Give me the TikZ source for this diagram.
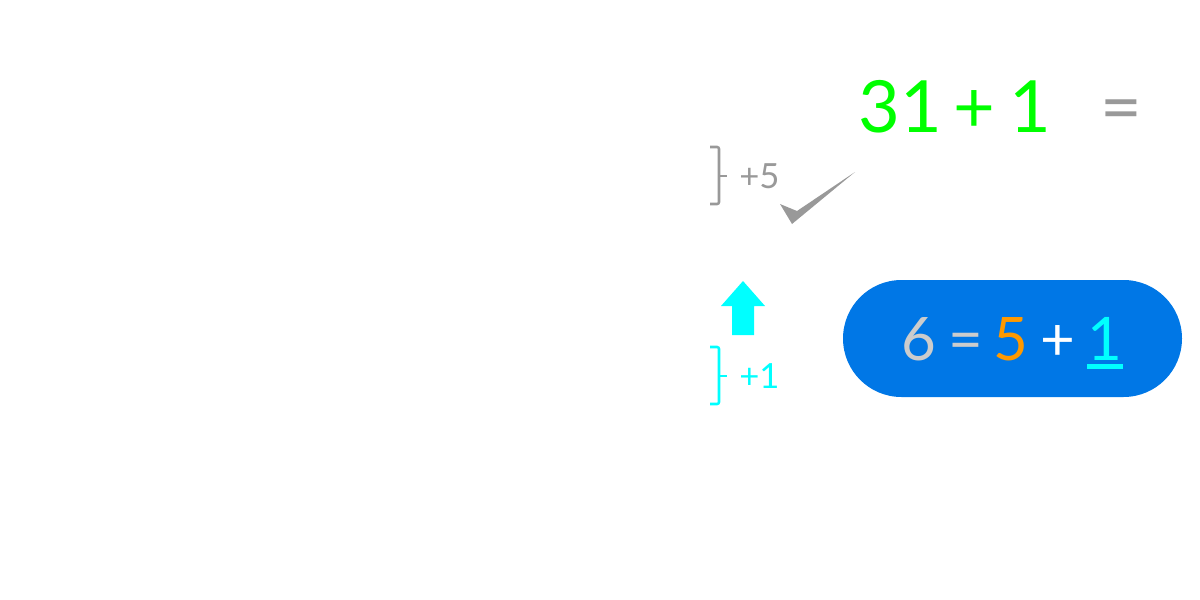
\documentclass[tikz,border=0pt]{standalone}
\usepackage{fontspec}
\setmainfont{Lato}
\definecolor{lgreen}{HTML}{00FF00}
\definecolor{mgray}{HTML}{999999}
\definecolor{lgray}{HTML}{CCCCCC}
\definecolor{pblue}{HTML}{0077E6}
\definecolor{aqua}{HTML}{00FFFF}
\definecolor{orng}{HTML}{FF9900}
\begin{document}
\begin{tikzpicture}[x=0.75pt,y=-0.75pt,
  bigtext/.style={inner sep=0pt,anchor=base,font=\fontsize{54}{60}\selectfont},
  pilltext/.style={inner sep=0pt,anchor=base,font=\fontsize{45}{50}\selectfont},
  smalltext/.style={inner sep=0pt,anchor=base west,font=\fontsize{26}{30}\selectfont},
  bracket/.style={line width=1.9pt,rounded corners=1.5pt}]
\useasboundingbox (0,0) rectangle (1200,600);
% top equation
\node[bigtext,text=lgreen] (t31) at (900.5,132) {31};
\node[bigtext,text=lgreen] (tplus) at (974,132) {+};
\node[bigtext,text=lgreen] (t1) at (1030,132) {1};
\node[bigtext,text=mgray] (eq) at (1121,132) {=};
% gray bracket +5
\draw[bracket,mgray] (710,147) -- (719,147) -- (719,204) -- (710,204);
\coordinate (gtick) at (719,176);
\draw[line width=1.9pt,mgray] (gtick) -- ++(8,0);
\node[smalltext,text=mgray] (p5) at (739,188) {+5};
% checkmark
\fill[mgray] (780,204) -- (797,211) -- (855,172) -- (792,224) -- cycle;
% cyan arrow
\fill[aqua] (743,281) -- (765,306) -- (754,306) -- (754,335) -- (732,335) -- (732,306) -- (721,306) -- cycle;
% cyan bracket +1
\draw[bracket,aqua] (710,347) -- (719,347) -- (719,404) -- (710,404);
\coordinate (ctick) at (719,376);
\draw[line width=1.9pt,aqua] (ctick) -- ++(8,0);
\node[smalltext,text=aqua] (p1) at (739,388) {+1};
% pill
\fill[pblue,rounded corners=58.5*0.75pt] (843,280) rectangle (1182,397);
\node[pilltext,text=lgray] (six) at (919,360) {6};
\node[pilltext,text=lgray] (peq) at (966,360) {=};
\node[pilltext,text=orng] (five) at (1011,360) {5};
\node[pilltext,text=white] (plus) at (1058,360) {+};
\node[pilltext,text=aqua] (one) at (1105,360) {1};
\fill[aqua] (1087,364) rectangle (1123,369);
\end{tikzpicture}
\end{document}
